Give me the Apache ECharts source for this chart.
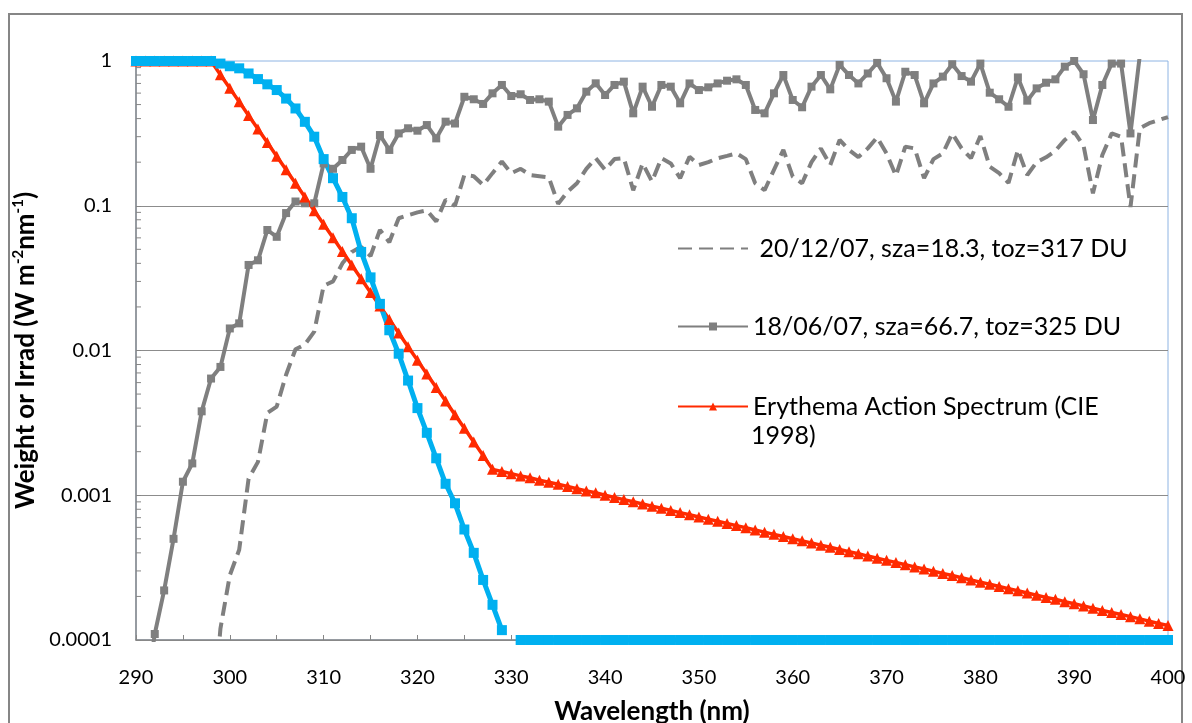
<!DOCTYPE html>
<html>
<head>
<meta charset="utf-8">
<script src="https://cdn.jsdelivr.net/npm/echarts@6/dist/echarts.min.js"></script>
<style>
  html, body { margin: 0; padding: 0; background: #fff; }
  #chart { width: 1192px; height: 723px; }
</style>
</head>
<body>
<div id="chart"></div>
<script>
// wavelengths run 290..400 nm in 1 nm steps
const startNm = 290
const endNm = 400

const nameDec = ' 20/12/07, sza=18.3, toz=317 DU'
const nameJun = '18/06/07, sza=66.7, toz=325 DU'
const nameEry = 'Erythema Action Spectrum (CIE 1998)'

const yTickLabels = ['0.0001', '0.001', '0.01', '0.1', '1']

// unnamed cyan spectrum (not in legend)
const cyanSpectrum = [
  1, 1, 1, 1, 1, 1, 1, 1, 1, 0.96,
  0.92, 0.89, 0.82, 0.75, 0.69, 0.63, 0.55, 0.47, 0.38, 0.30,
  0.21, 0.155, 0.115, 0.082, 0.048, 0.032, 0.021, 0.0138, 0.0095, 0.0062,
  0.0040, 0.0027, 0.0018, 0.0012, 0.00088, 0.00058, 0.0004, 0.00026, 0.000175, 0.000117,
  null, 0.0001, 0.0001, 0.0001, 0.0001, 0.0001, 0.0001, 0.0001, 0.0001, 0.0001,
  0.0001, 0.0001, 0.0001, 0.0001, 0.0001, 0.0001, 0.0001, 0.0001, 0.0001, 0.0001,
  0.0001, 0.0001, 0.0001, 0.0001, 0.0001, 0.0001, 0.0001, 0.0001, 0.0001, 0.0001,
  0.0001, 0.0001, 0.0001, 0.0001, 0.0001, 0.0001, 0.0001, 0.0001, 0.0001, 0.0001,
  0.0001, 0.0001, 0.0001, 0.0001, 0.0001, 0.0001, 0.0001, 0.0001, 0.0001, 0.0001,
  0.0001, 0.0001, 0.0001, 0.0001, 0.0001, 0.0001, 0.0001, 0.0001, 0.0001, 0.0001,
  0.0001, 0.0001, 0.0001, 0.0001, 0.0001, 0.0001, 0.0001, 0.0001, 0.0001, 0.0001,
  0.0001
]

const erythema = [
  1, 1, 1, 1, 1, 1, 1, 1, 1, 0.805,
  0.649, 0.522, 0.421, 0.339, 0.273, 0.220, 0.177, 0.143, 0.115, 0.0925,
  0.0745, 0.0600, 0.0483, 0.0389, 0.0313, 0.0252, 0.0203, 0.0164, 0.0132, 0.0106,
  0.00855, 0.00689, 0.00555, 0.00447, 0.00360, 0.00290, 0.00233, 0.00188, 0.00151, 0.00146,
  0.00141, 0.00136, 0.00132, 0.00127, 0.00123, 0.00119, 0.00115, 0.00111, 0.00107, 0.00104,
  0.00100, 0.000966, 0.000933, 0.000902, 0.000871, 0.000841, 0.000813, 0.000785, 0.000759, 0.000733,
  0.000708, 0.000684, 0.000661, 0.000638, 0.000617, 0.000596, 0.000575, 0.000556, 0.000537, 0.000519,
  0.000501, 0.000484, 0.000468, 0.000452, 0.000437, 0.000422, 0.000407, 0.000394, 0.000380, 0.000367,
  0.000355, 0.000343, 0.000331, 0.000320, 0.000309, 0.000299, 0.000288, 0.000279, 0.000269, 0.000260,
  0.000251, 0.000243, 0.000234, 0.000226, 0.000219, 0.000211, 0.000204, 0.000197, 0.000191, 0.000184,
  0.000178, 0.000172, 0.000166, 0.000160, 0.000155, 0.000150, 0.000145, 0.000140, 0.000135, 0.000130,
  0.000126
]

const irradJun = [
  null, 0.00004, 0.00011, 0.00022, 0.0005, 0.00124, 0.00166, 0.0038, 0.0064, 0.0077,
  0.0142, 0.0154, 0.039, 0.042, 0.068, 0.061, 0.089, 0.107, 0.104, 0.104,
  0.196, 0.18, 0.207, 0.243, 0.256, 0.18, 0.308, 0.243, 0.316, 0.343,
  0.33, 0.361, 0.292, 0.381, 0.37, 0.566, 0.544, 0.505, 0.598, 0.683,
  0.573, 0.589, 0.538, 0.544, 0.524, 0.352, 0.424, 0.471, 0.614, 0.701,
  0.582, 0.683, 0.72, 0.435, 0.665, 0.483, 0.683, 0.665, 0.51, 0.70,
  0.63, 0.658, 0.70, 0.731, 0.747, 0.683, 0.459, 0.435, 0.598, 0.80,
  0.538, 0.479, 0.665, 0.80, 0.637, 0.94, 0.80, 0.70, 0.82, 0.97,
  0.76, 0.524, 0.843, 0.80, 0.51, 0.70, 0.78, 0.95, 0.787, 0.72,
  0.96, 0.604, 0.544, 0.483, 0.77, 0.532, 0.647, 0.708, 0.747, 0.914,
  1.0, 0.81, 0.391, 0.683, 0.96, 0.96, 0.316, 1.1, 1.4, 1.3,
  1.4
]

const irradDec = [
  null, null, null, null, null, null, null, null, 0.00002, 0.00012,
  0.00028, 0.00042, 0.0013, 0.0017, 0.0037, 0.0041, 0.0068, 0.0102, 0.011, 0.0135,
  0.028, 0.030, 0.040, 0.048, 0.052, 0.045, 0.068, 0.056, 0.082, 0.086,
  0.090, 0.093, 0.078, 0.110, 0.100, 0.163, 0.160, 0.139, 0.168, 0.202,
  0.168, 0.18, 0.163, 0.16, 0.157, 0.103, 0.125, 0.143, 0.18, 0.213,
  0.177, 0.21, 0.213, 0.128, 0.196, 0.147, 0.213, 0.196, 0.155, 0.218,
  0.191, 0.20, 0.213, 0.221, 0.23, 0.21, 0.143, 0.128, 0.177, 0.243,
  0.159, 0.143, 0.20, 0.249, 0.191, 0.285, 0.243, 0.217, 0.249, 0.297,
  0.23, 0.161, 0.256, 0.249, 0.155, 0.21, 0.23, 0.316, 0.249, 0.213,
  0.303, 0.186, 0.168, 0.144, 0.243, 0.163, 0.20, 0.216, 0.24, 0.285,
  0.324, 0.26, 0.122, 0.224, 0.316, 0.30, 0.098, 0.343, 0.372, 0.39,
  0.41
]

const FONT = 'Lato'
const GRAY = '#7F7F7F'
const RED = '#FF2A00'
const CYAN = '#00B0F0'
const AXIS = '#868686'

function pair(vals) {
  return vals.map((v, i) => [startNm + i, v])
}

// log minor tick values (2..9 per decade)
const minorTickVals = []
for (let e = -4; e < 0; e++) {
  for (let m = 2; m <= 9; m++) minorTickVals.push([startNm, m * Math.pow(10, e)])
}

const legendBase = {
  orient: 'vertical',
  left: 672,
  itemWidth: 70,
  itemHeight: 10,
  itemGap: 0,
  selectedMode: false,
  textStyle: { fontFamily: FONT, fontSize: 25, color: '#000' }
}

let option = {
  animation: false,
  backgroundColor: '#fff',
  grid: {
    left: 136, right: 24, top: 61, bottom: 83,
    outerBoundsMode: 'none',
    containLabel: false,
    show: true,
    borderColor: '#8EB4E3',
    borderWidth: 1
  },
  legend: [
    Object.assign({}, legendBase, {
      top: 231,
      data: [nameDec],
      itemStyle: { opacity: 0 }
    }),
    Object.assign({}, legendBase, { top: 309, data: [nameJun] }),
    Object.assign({}, legendBase, {
      top: 389,
      data: [nameEry],
      formatter: () => 'Erythema Action Spectrum (CIE'
    })
  ],
  graphic: [
    {
      type: 'rect',
      shape: { x: 9, y: 14, width: 1173, height: 760 },
      style: { fill: 'none', stroke: AXIS, lineWidth: 2 },
      silent: true,
      z: -1
    },
    {
      type: 'text',
      left: 751,
      top: 423,
      style: { text: '1998)', font: '25px Lato', fill: '#000' }
    }
  ],
  xAxis: {
    type: 'value',
    min: startNm,
    max: endNm,
    interval: 10,
    name: 'Wavelength (nm)',
    nameLocation: 'middle',
    nameGap: 59,
    nameTextStyle: { fontFamily: FONT, fontSize: 26, fontWeight: 'bold', color: '#000' },
    axisLine: { lineStyle: { color: AXIS, width: 1.5 } },
    axisTick: { inside: true, length: 5, lineStyle: { color: AXIS } },
    minorTick: { show: true, splitNumber: 2, length: 5, lineStyle: { color: AXIS } },
    axisLabel: { margin: 28, fontFamily: FONT, fontSize: 20, color: '#000' },
    splitLine: { show: false }
  },
  yAxis: {
    type: 'log',
    logBase: 10,
    min: 0.0001,
    max: 1,
    name: '{t|Weight or Irrad (W m}{s|-2}{t|nm}{s|-1}{t|)}',
    nameLocation: 'middle',
    nameRotate: 90,
    nameGap: 88,
    nameTextStyle: {
      rich: {
        t: { fontFamily: FONT, fontSize: 26, fontWeight: 'bold', color: '#000', lineHeight: 30 },
        s: { fontFamily: FONT, fontSize: 15, fontWeight: 'bold', color: '#000', lineHeight: 30, verticalAlign: 'top', padding: [0, 0, 10, 0] }
      }
    },
    axisLine: { show: true, lineStyle: { color: AXIS, width: 1.5 } },
    axisTick: { inside: true, length: 5, lineStyle: { color: AXIS } },
    axisLabel: {
      margin: 24,
      fontFamily: FONT,
      fontSize: 20,
      color: '#000',
      formatter: (v) => yTickLabels[Math.round(Math.log10(v)) + 4]
    },
    splitLine: { show: true, showMaxLine: false, lineStyle: { color: '#8C8C8C', width: 1 } }
  },
  series: [
    {
      name: 'minor ticks',
      type: 'custom',
      silent: true,
      data: minorTickVals,
      renderItem: (params, api) => {
        const p = api.coord([api.value(0), api.value(1)])
        return {
          type: 'line',
          shape: { x1: p[0], y1: p[1], x2: p[0] + 5, y2: p[1] },
          style: { stroke: AXIS, lineWidth: 1 }
        }
      }
    },
    {
      name: nameDec,
      type: 'line',
      data: pair(irradDec),
      symbol: 'none',
      lineStyle: { color: GRAY, width: 4, type: [14, 7] },
      itemStyle: { color: GRAY }
    },
    {
      name: nameJun,
      type: 'line',
      data: pair(irradJun),
      symbol: 'rect',
      symbolSize: 8,
      lineStyle: { color: GRAY, width: 4 },
      itemStyle: { color: GRAY }
    },
    {
      name: nameEry,
      type: 'line',
      data: pair(erythema),
      symbol: 'triangle',
      symbolSize: 11,
      lineStyle: { color: RED, width: 3.5 },
      itemStyle: { color: RED }
    },
    {
      name: 'cyan',
      type: 'line',
      data: pair(cyanSpectrum),
      symbol: 'rect',
      symbolSize: 10,
      lineStyle: { color: CYAN, width: 5 },
      itemStyle: { color: CYAN }
    }
  ]
}

var myChart = echarts.init(document.getElementById('chart'))
myChart.setOption(option)
</script>
</body>
</html>
